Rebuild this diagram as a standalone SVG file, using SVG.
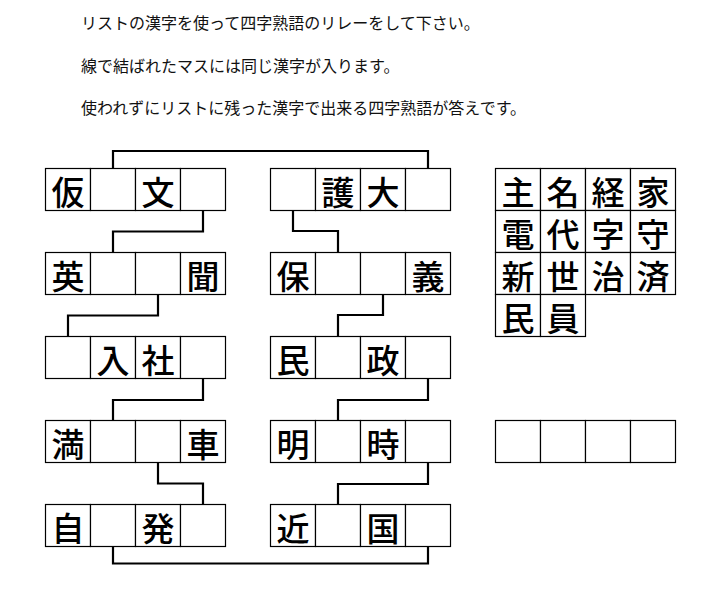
<svg xmlns="http://www.w3.org/2000/svg" width="721" height="589" viewBox="0 0 721 589">
<style>
.c{fill:#fff;stroke:#000;stroke-width:1.2}
.k{font-family:"Noto Sans CJK JP","Noto Sans CJK SC",sans-serif;font-size:33px;font-weight:500;fill:#000;text-anchor:middle}
.t{font-family:"Noto Sans CJK JP","Noto Sans CJK SC",sans-serif;font-size:16px;fill:#111}
.ln{fill:none;stroke:#000;stroke-width:2.2;stroke-linejoin:miter}
</style>
<defs>
<g id="row4">
<rect class="c" x="0" y="0" width="45" height="42"/>
<rect class="c" x="45" y="0" width="45" height="42"/>
<rect class="c" x="90" y="0" width="45" height="42"/>
<rect class="c" x="135" y="0" width="45" height="42"/>
</g>
</defs>
<rect width="721" height="589" fill="#fff"/>
<g id="instructions">
<text class="t" x="81" y="29">リストの漢字を使って四字熟語のリレーをして下さい。</text>
<text class="t" x="81" y="72">線で結ばれたマスには同じ漢字が入ります。</text>
<text class="t" x="81" y="114">使われずにリストに残った漢字で出来る四字熟語が答えです。</text>
</g>
<g id="connectors">
<path class="ln" d="M113 168.5 V151 H428 V168.5"/>
<path class="ln" d="M203 210.5 V231.5 H113 V252.5"/>
<path class="ln" d="M293 210.5 V231 H338 V252.5"/>
<path class="ln" d="M158 294.5 V315.5 H68 V336.5"/>
<path class="ln" d="M383 294.5 V315 H338 V336.5"/>
<path class="ln" d="M203 378.5 V400 H113 V420.5"/>
<path class="ln" d="M428 378.5 V400 H338 V420.5"/>
<path class="ln" d="M158 462.5 V483.5 H203 V504.5"/>
<path class="ln" d="M428 462.5 V484 H338 V504.5"/>
<path class="ln" d="M113 546.5 V563.5 H428 V546.5"/>
</g>
<g id="L1"><use href="#row4" x="45.5" y="168.5"/><text class="k" x="68" y="204.5">仮</text><text class="k" x="158" y="204.5">文</text></g>
<g id="R1"><use href="#row4" x="270.5" y="168.5"/><text class="k" x="338" y="204.5">護</text><text class="k" x="383" y="204.5">大</text></g>
<g id="L2"><use href="#row4" x="45.5" y="252.5"/><text class="k" x="68" y="288.5">英</text><text class="k" x="203" y="288.5">聞</text></g>
<g id="R2"><use href="#row4" x="270.5" y="252.5"/><text class="k" x="293" y="288.5">保</text><text class="k" x="428" y="288.5">義</text></g>
<g id="L3"><use href="#row4" x="45.5" y="336.5"/><text class="k" x="113" y="372.5">入</text><text class="k" x="158" y="372.5">社</text></g>
<g id="R3"><use href="#row4" x="270.5" y="336.5"/><text class="k" x="293" y="372.5">民</text><text class="k" x="383" y="372.5">政</text></g>
<g id="L4"><use href="#row4" x="45.5" y="420.5"/><text class="k" x="68" y="456.5">満</text><text class="k" x="203" y="456.5">車</text></g>
<g id="R4"><use href="#row4" x="270.5" y="420.5"/><text class="k" x="293" y="456.5">明</text><text class="k" x="383" y="456.5">時</text></g>
<g id="L5"><use href="#row4" x="45.5" y="504.5"/><text class="k" x="68" y="540.5">自</text><text class="k" x="158" y="540.5">発</text></g>
<g id="R5"><use href="#row4" x="270.5" y="504.5"/><text class="k" x="293" y="540.5">近</text><text class="k" x="383" y="540.5">国</text></g>
<g id="list">
<use href="#row4" x="495.5" y="168.5"/>
<use href="#row4" x="495.5" y="210.5"/>
<use href="#row4" x="495.5" y="252.5"/>
<rect class="c" x="495.5" y="294.5" width="45" height="42"/>
<rect class="c" x="540.5" y="294.5" width="45" height="42"/>
<text class="k" x="518" y="204.5">主</text><text class="k" x="563" y="204.5">名</text><text class="k" x="608" y="204.5">経</text><text class="k" x="653" y="204.5">家</text>
<text class="k" x="518" y="246.5">電</text><text class="k" x="563" y="246.5">代</text><text class="k" x="608" y="246.5">字</text><text class="k" x="653" y="246.5">守</text>
<text class="k" x="518" y="288.5">新</text><text class="k" x="563" y="288.5">世</text><text class="k" x="608" y="288.5">治</text><text class="k" x="653" y="288.5">済</text>
<text class="k" x="518" y="330.5">民</text><text class="k" x="563" y="330.5">員</text>
</g>
<g id="answer"><use href="#row4" x="495.5" y="420.5"/></g>
</svg>
